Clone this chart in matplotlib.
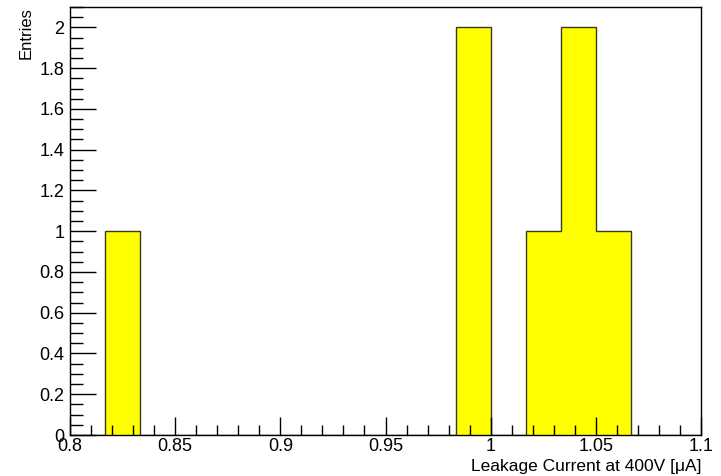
import numpy as np
import matplotlib
matplotlib.use("Agg")
from matplotlib import pyplot as plt
from matplotlib.ticker import MultipleLocator

# 18 bins from 0.8 to 1.1
bin_edges = np.linspace(0.8, 1.1, 19)
counts = [0, 1, 0, 0, 0, 0, 0, 0, 0, 0, 0, 2, 0, 1, 2, 1, 0, 0]
x_ticklabels = ["0.8", "0.85", "0.9", "0.95", "1", "1.05", "1.1"]
y_ticklabels = ["0", "0.2", "0.4", "0.6", "0.8", "1", "1.2", "1.4", "1.6", "1.8", "2"]
x_label = "Leakage Current at 400V [\u03bcA]"
y_label = "Entries"

plt.rcParams["font.family"] = ["Liberation Sans", "DejaVu Sans"]

fig = plt.figure(figsize=(7.21, 4.76), dpi=100)
ax = fig.add_axes([0.0971, 0.0861, 0.8752, 0.8992])

ax.stairs(counts, bin_edges, fill=True, facecolor="#ffff00",
          edgecolor="#3a3a1a", linewidth=1.0)

ax.set_xlim(0.8, 1.1)
ax.set_ylim(0, 2.1)

ax.xaxis.set_minor_locator(MultipleLocator(0.01))
ax.yaxis.set_minor_locator(MultipleLocator(0.05))
ax.set_xticks(np.linspace(0.8, 1.1, len(x_ticklabels)))
ax.set_xticklabels(x_ticklabels)
ax.set_yticks(np.linspace(0, 2.0, len(y_ticklabels)))
ax.set_yticklabels(y_ticklabels)

ax.tick_params(axis="both", which="both", direction="in", top=False, right=False,
               labelsize=13, color="black", width=1)
ax.tick_params(axis="x", which="major", length=13, pad=2)
ax.tick_params(axis="x", which="minor", length=7)
ax.tick_params(axis="y", which="major", length=19, pad=4)
ax.tick_params(axis="y", which="minor", length=9)

for sp in ax.spines.values():
    sp.set_linewidth(1.0)

ax.set_xlabel(x_label, fontsize=12.5, loc="right", labelpad=3)
ax.set_ylabel(y_label, fontsize=12, loc="top", labelpad=4)

fig.savefig("out.png", dpi=100)
